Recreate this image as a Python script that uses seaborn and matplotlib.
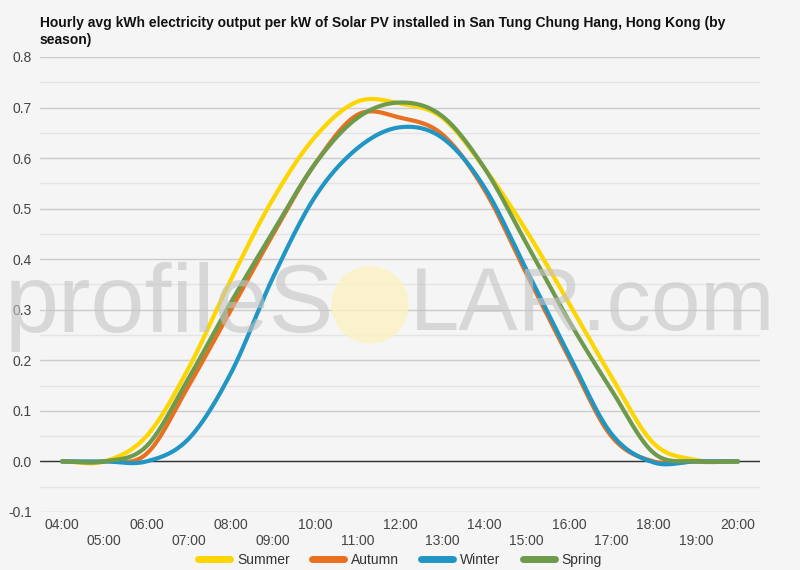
import numpy as np
import pandas as pd
import matplotlib
matplotlib.use("Agg")
import matplotlib.pyplot as plt
from matplotlib.patches import Ellipse
from matplotlib.ticker import MultipleLocator
import seaborn as sns

hours = list(range(4, 21))
hour_labels = [f"{h:02d}:00" for h in hours]
summer = [0.0, 0.0, 0.05, 0.185, 0.36, 0.52, 0.643, 0.712, 0.708, 0.68, 0.58, 0.455, 0.313, 0.168, 0.036, 0.003, 0.0]
autumn = [0.0, 0.0, 0.015, 0.15, 0.30, 0.45, 0.59, 0.686, 0.68, 0.647, 0.537, 0.37, 0.205, 0.05, 0.0, 0.0, 0.0]
winter = [0.0, 0.0, 0.0, 0.045, 0.175, 0.365, 0.525, 0.62, 0.661, 0.64, 0.542, 0.378, 0.211, 0.055, -0.002, 0.0, 0.0]
spring = [0.0, 0.0, 0.03, 0.165, 0.315, 0.455, 0.59, 0.68, 0.71, 0.683, 0.58, 0.43, 0.278, 0.142, 0.017, 0.0, 0.0]
series_names = ["Summer", "Autumn", "Winter", "Spring"]
colors = ["#FDD500", "#E8701E", "#2196C4", "#6E9A4B"]
title = "Hourly avg kWh electricity output per kW of Solar PV installed in San Tung Chung Hang, Hong Kong (by\nseason)"


def catmull_rom(x, y, n=30):
    x = np.asarray(x, float)
    y = np.asarray(y, float)
    xs, ys = [], []
    for i in range(len(x) - 1):
        y0 = y[i - 1] if i > 0 else y[i]
        y3 = y[i + 2] if i + 2 < len(y) else y[i + 1]
        y1, y2 = y[i], y[i + 1]
        m1 = (y2 - y0) / 2.0
        m2 = (y3 - y1) / 2.0
        t = np.linspace(0, 1, n, endpoint=False)
        h00 = 2 * t**3 - 3 * t**2 + 1
        h10 = t**3 - 2 * t**2 + t
        h01 = -2 * t**3 + 3 * t**2
        h11 = t**3 - t**2
        xs.append(x[i] + t * (x[i + 1] - x[i]))
        ys.append(h00 * y1 + h10 * m1 + h01 * y2 + h11 * m2)
    xs.append([x[-1]])
    ys.append([y[-1]])
    return np.concatenate(xs), np.concatenate(ys)


frames = []
for name, vals in zip(series_names, [summer, autumn, winter, spring]):
    sx, sy = catmull_rom(hours, vals)
    frames.append(pd.DataFrame({"hour": sx, "value": sy, "season": name}))
df = pd.concat(frames, ignore_index=True)

sns.set_theme(style="white")
plt.rcParams["font.family"] = ["Liberation Sans", "DejaVu Sans"]

bg = "#F5F5F5"
fig = plt.figure(figsize=(8, 5.7), dpi=100, facecolor=bg)
ax = fig.add_axes([0.05, 0.1018, 0.90, 0.7982])
ax.set_facecolor(bg)

ax.yaxis.set_major_locator(MultipleLocator(0.1))
ax.yaxis.set_minor_locator(MultipleLocator(0.05))
ax.grid(which="major", axis="y", color="#CCCCCC", linewidth=1.0)
ax.grid(which="minor", axis="y", color="#E4E4E4", linewidth=1.0)
ax.set_axisbelow(True)

# watermark (profileSOLAR.com)
fig.text(0.006, 0.462, "profileS", fontsize=70, color="#C4C4C4", alpha=0.6,
         va="center", ha="left", zorder=0.5)
fig.text(0.512, 0.462, "LAR.com", fontsize=64, color="#C4C4C4", alpha=0.6,
         va="center", ha="left", zorder=0.5)
sun = Ellipse((0.4625, 0.465), 0.095, 0.1333, transform=fig.transFigure,
              color="#FCF2C2", alpha=0.8, zorder=0.5)
fig.patches.append(sun)

ax.axhline(0, color="#333333", linewidth=1.0, zorder=1.5)

sns.lineplot(data=df, x="hour", y="value", hue="season", hue_order=series_names,
             palette=colors, linewidth=3.0, ax=ax, legend=False, sort=False,
             estimator=None, zorder=3)

ax.set_xlim(3.48, 20.52)
ax.set_ylim(-0.1, 0.8)
ax.set_xticks(hours)
ax.set_xticklabels([lab if h % 2 == 0 else "\n" + lab for h, lab in zip(hours, hour_labels)])
yt = np.round(np.arange(-0.1, 0.81, 0.1), 1)
ax.set_yticks(yt)
ax.set_yticklabels([f"{v:.1f}" for v in yt])
ax.tick_params(axis="both", which="both", length=0, labelsize=10, labelcolor="#444444")
ax.tick_params(axis="x", pad=4)
ax.tick_params(axis="y", pad=6)
ax.set_xlabel("")
ax.set_ylabel("")
for s in ax.spines.values():
    s.set_visible(False)

fig.text(0.05, 0.972, title, fontsize=10, fontweight="bold", color="#111111",
         ha="left", va="top", linespacing=1.3)

handles = [plt.Line2D([0], [0], color=c, linewidth=5) for c in colors]
fig.legend(handles, series_names, loc="lower center", bbox_to_anchor=(0.5, -0.016),
           ncol=4, frameon=False, fontsize=10, handlelength=2.3, columnspacing=1.6,
           handletextpad=0.5, labelcolor="#333333")

fig.savefig("out.png", dpi=100, facecolor=bg)
